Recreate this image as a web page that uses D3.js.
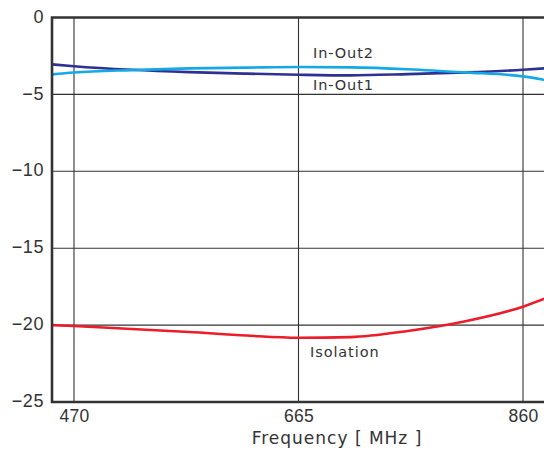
<!DOCTYPE html>
<html><head><meta charset="utf-8">
<script src="https://cdn.jsdelivr.net/npm/d3@7"></script>
<style>body{margin:0;background:#fff}</style>
</head><body>
<svg id="c" width="544" height="453"></svg>
<script>
const freqs = [451, 470, 520, 570, 620, 665, 710, 760, 810, 860, 880];
const inOut1 = [-3.05, -3.17, -3.40, -3.55, -3.65, -3.72, -3.76, -3.68, -3.57, -3.40, -3.30];
const inOut2 = [-3.70, -3.58, -3.42, -3.31, -3.26, -3.22, -3.24, -3.36, -3.57, -3.83, -4.07];
const isolation = [-20.0, -20.06, -20.25, -20.45, -20.68, -20.82, -20.78, -20.38, -19.75, -18.8, -18.25];
const xTicks = [470, 665, 860];
const yTicks = [0, -5, -10, -15, -20, -25];
const seriesNames = ["In-Out1", "In-Out2", "Isolation"];

const svg = d3.select("#c");
const L = 52, T = 17.5, B = 402;
const x = d3.scaleLinear().domain([470, 860]).range([74, 523]);
const xRight = x(880) + 5;
const y = d3.scaleLinear().domain([-25, 0]).range([B, T]);

// gridlines
svg.append("g").selectAll("line").data(yTicks.filter(v => v !== 0 && v !== -25)).join("line")
  .attr("x1", L).attr("x2", xRight).attr("y1", d => y(d)).attr("y2", d => y(d))
  .attr("stroke", "#333").attr("stroke-width", 1.1);
svg.append("g").selectAll("line").data(xTicks).join("line")
  .attr("x1", d => x(d)).attr("x2", d => x(d)).attr("y1", T).attr("y2", B)
  .attr("stroke", "#333").attr("stroke-width", 1.1);

// curves
const line = vals => d3.line().x((d, i) => x(freqs[i])).y(d => y(d)).curve(d3.curveMonotoneX)(vals);
const colors = ["#2e3192", "#14a9e6", "#ec1c2a"];
[inOut1, inOut2, isolation].forEach((vals, k) => {
  svg.append("path").attr("d", line(vals)).attr("fill", "none")
    .attr("stroke", colors[k]).attr("stroke-width", 2.6);
});

// frame
svg.append("path").attr("d", `M${xRight},${T}H${L}V${B}H${xRight}`)
  .attr("fill", "none").attr("stroke", "#333").attr("stroke-width", 2.6);

// axes
const yAxis = d3.axisLeft(y).tickValues(yTicks).tickSize(0).tickPadding(8);
const gy = svg.append("g").attr("transform", `translate(${L},0)`).call(yAxis);
gy.select(".domain").remove();
gy.selectAll("text").attr("dy", "0.26em").attr("font-family", "Liberation Sans, Arial, sans-serif")
  .attr("font-size", 18).attr("letter-spacing", 0.6).attr("fill", "#333");

const xAxis = d3.axisBottom(x).tickValues(xTicks).tickSize(0).tickPadding(8).tickFormat(d3.format("d"));
const gx = svg.append("g").attr("transform", `translate(0,${B})`).call(xAxis);
gx.select(".domain").remove();
gx.selectAll("text").attr("font-family", "Liberation Sans, Arial, sans-serif")
  .attr("font-size", 17.5).attr("letter-spacing", 0.3).attr("fill", "#333");

svg.append("text").attr("x", 337).attr("y", 444).attr("text-anchor", "middle")
  .attr("font-family", "DejaVu Sans, sans-serif").attr("font-size", 17)
  .attr("letter-spacing", 1).attr("fill", "#333").text("Frequency [ MHz ]");

// series labels
const labelPos = [[313, 90], [313, 57.5], [310, 357]];
seriesNames.forEach((n, k) => {
  svg.append("text").attr("x", labelPos[k][0]).attr("y", labelPos[k][1])
    .attr("font-family", "DejaVu Sans, sans-serif").attr("font-size", 14.5)
    .attr("letter-spacing", 0.9).attr("fill", "#333").text(n);
});
</script>
</body></html>
